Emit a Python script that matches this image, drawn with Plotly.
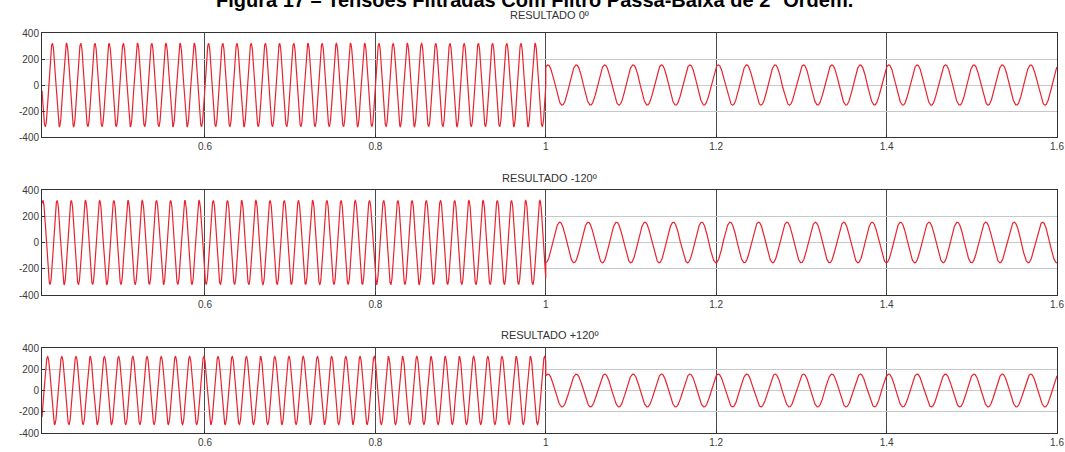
import numpy as np
import plotly.graph_objects as go

# Filtered three-phase voltages: 60 Hz input until the switch, 30 Hz after it
subplot_titles = ["RESULTADO 0º", "RESULTADO -120º", "RESULTADO +120º"]
t_start = 0.4087
t_switch = 1.0
t_end = 1.6
freq_before = 60.0
freq_after = 30.0
amp_before = [320, 320, 320]
amp_after = [155, 155, 155]
phase_before_deg = [0, -120, 120]
phase_after_deg = [63, -87, 63]

x_tick_vals = [0.6, 0.8, 1.0, 1.2, 1.4, 1.6]
x_tick_text = ["0.6", "0.8", "1", "1.2", "1.4", "1.6"]
y_tick_vals = [-400, -200, 0, 200, 400]
y_tick_text = ["-400", "-200", "0", "200", "400"]

W, H = 1065, 452
x_dom = [42 / W, 1057 / W]
# pixel top/bottom of each axes box
boxes = [(33, 137), (190, 295), (348, 433)]
title_px = [15, 178, 335]

t = np.linspace(t_start, t_end, 24000)

fig = go.Figure()
line_color = "#e8232e"
axis_font = dict(family="Liberation Sans, Arial", size=10, color="#3a3a3a")

for i in range(3):
    before = amp_before[i] * np.sin(2 * np.pi * freq_before * t + np.deg2rad(phase_before_deg[i]))
    after = amp_after[i] * np.sin(2 * np.pi * freq_after * t + np.deg2rad(phase_after_deg[i]))
    y = np.where(t < t_switch, before, after)
    n = i + 1
    xa = "x" if n == 1 else f"x{n}"
    ya = "y" if n == 1 else f"y{n}"
    fig.add_trace(go.Scatter(x=t, y=y, mode="lines", xaxis=xa, yaxis=ya,
                             line=dict(color=line_color, width=1.2),
                             showlegend=False, hoverinfo="skip"))
    top, bot = boxes[i]
    fig.layout[f"xaxis{n if n > 1 else ''}"] = dict(
        domain=x_dom, range=[t_start, t_end], anchor=ya,
        tickvals=x_tick_vals, ticktext=x_tick_text,
        showgrid=True, gridcolor="#4a4a4a", gridwidth=1,
        showline=True, linecolor="#333", linewidth=1, mirror=True,
        ticks="inside", ticklen=3, tickcolor="#333",
        tickfont=axis_font, zeroline=False, automargin=False,
    )
    fig.layout[f"yaxis{n if n > 1 else ''}"] = dict(
        domain=[1 - bot / H, 1 - top / H], range=[-400, 400], anchor=xa,
        tickvals=y_tick_vals, ticktext=y_tick_text,
        showgrid=True, gridcolor="#c8c8c8", gridwidth=1,
        showline=True, linecolor="#333", linewidth=1, mirror=True,
        ticks="inside", ticklen=3, tickcolor="#333",
        tickfont=axis_font, zeroline=False, automargin=False,
    )
    fig.add_annotation(text=subplot_titles[i], xref="paper", yref="paper",
                       x=(x_dom[0] + x_dom[1]) / 2, y=1 - title_px[i] / H,
                       xanchor="center", yanchor="middle", showarrow=False,
                       font=dict(family="Liberation Sans, Arial", size=11, color="#333"))

fig.add_annotation(text="Figura 17 – Tensões Filtradas Com Filtro Passa-Baixa de 2ª Ordem.",
                   xref="paper", yref="paper", x=534 / W, y=1.0,
                   xanchor="center", yanchor="middle", showarrow=False,
                   font=dict(family="Liberation Sans, Arial", size=20, color="#000"))

fig.update_layout(width=W, height=H, margin=dict(l=0, r=0, t=0, b=0),
                  paper_bgcolor="white", plot_bgcolor="white")
fig.add_annotation  # noqa
fig.update_annotations(selector=dict(text="Figura 17 – Tensões Filtradas Com Filtro Passa-Baixa de 2ª Ordem."),
                       text="<b>Figura 17 – Tensões Filtradas Com Filtro Passa-Baixa de 2ª Ordem.</b>")

fig.write_html("out.html")
